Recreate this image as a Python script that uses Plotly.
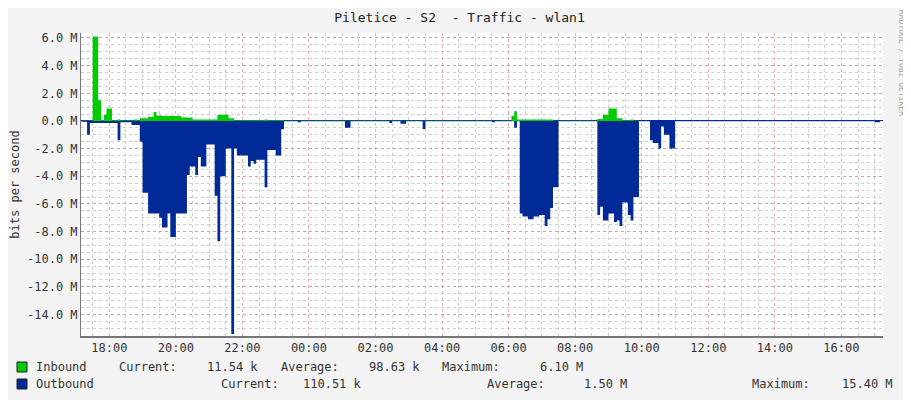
import plotly.graph_objects as go

DAY0 = "2024-01-01 "
DAY1 = "2024-01-02 "

# Outbound (negative, Mbit/s) step start times and values
out_times = ["17:10","17:20","17:25","18:15","18:20","18:40","18:55","19:00","19:10","19:30","19:35","19:45","19:50","20:00",
             "20:20","20:25","20:35","20:40","20:45","20:55","21:10","21:15","21:20","21:30","21:40","21:45","21:50",
             "22:10","22:15","22:20","22:25","22:40","22:45","23:00","23:10","23:15","23:40","23:45",
             "+01:05","+01:15","+02:25","+02:30","+02:45","+02:55","+03:25","+03:30","+05:30","+05:35",
             "+06:10","+06:15","+06:20","+06:25","+06:35","+06:45","+06:55","+07:05","+07:10","+07:15","+07:20","+07:30",
             "+08:40","+08:45","+08:50","+09:00","+09:10","+09:15","+09:20","+09:25","+09:35","+09:40","+09:45","+09:55",
             "+10:15","+10:20","+10:30","+10:35","+10:40","+10:50","+11:00","+17:00","+17:10"]
out_vals = [-0.05,-1.0,-0.15,-1.4,-0.1,-0.3,-1.5,-5.2,-6.7,-7.0,-7.7,-6.7,-8.4,-6.7,
            -3.9,-3.3,-3.9,-2.6,-3.3,-1.7,-5.4,-8.7,-4.0,-2.0,-15.4,-2.0,-2.5,
            -3.3,-2.9,-3.1,-2.8,-4.8,-2.1,-2.5,-0.6,-0.02,-0.1,-0.02,
            -0.5,-0.02,-0.15,-0.02,-0.2,-0.02,-0.6,-0.02,-0.1,-0.02,
            -0.5,-0.02,-6.7,-6.9,-7.1,-6.9,-6.8,-7.6,-7.1,-6.3,-4.8,-0.02,
            -6.8,-6.2,-7.2,-6.7,-7.3,-7.2,-7.6,-5.9,-6.8,-7.2,-5.5,-0.02,
            -1.4,-1.6,-2.0,-0.4,-1.0,-2.0,-0.02,-0.1,-0.1]

# Inbound (positive, Mbit/s)
in_times = ["17:10","17:30","17:40","17:45","17:50","17:55","18:05","18:15","18:20","18:45","18:50","18:55","19:10","19:20",
            "19:25","19:35","20:10","20:30","21:15","21:35","21:45","22:40","22:45","23:15",
            "+06:05","+06:10","+06:15","+07:20","+08:40","+08:50","+09:00","+09:15","+09:25","+09:40","+09:45","+09:55","+17:10"]
in_vals = [0.02,6.1,1.5,0.05,0.45,0.9,0.05,0.1,0.03,0.1,0.03,0.2,0.3,0.65,
           0.4,0.35,0.25,0.1,0.45,0.2,0.05,0.1,0.05,0.01,
           0.35,0.7,0.1,0.02,0.15,0.45,0.9,0.2,0.05,0.1,0.02,0.0,0.01]

y_tickvals = [6, 4, 2, 0, -2, -4, -6, -8, -10, -12, -14]
y_ticktext = ["6.0 M","4.0 M","2.0 M","0.0 M","-2.0 M","-4.0 M","-6.0 M","-8.0 M","-10.0 M","-12.0 M","-14.0 M"]

# legend pieces: (text, x pixel, anchor)
legend_in = [("Inbound", 34, "left"), ("Current:", 117, "left"), ("11.54 k", 260, "right"),
             ("Average:", 279, "left"), ("98.63 k", 422, "right"), ("Maximum:", 440, "left"), ("6.10 M", 585, "right")]
legend_out = [("Outbound", 34, "left"), ("Current:", 219, "left"), ("110.51 k", 364, "right"),
              ("Average:", 485, "left"), ("1.50 M", 629, "right"), ("Maximum:", 750, "left"), ("15.40 M", 895, "right")]

def ts(t):
    return (DAY1 + t[1:]) if t.startswith("+") else (DAY0 + t)

FONT = "DejaVu Sans Mono"
OFF = 8  # page body margin
W, H = 911 - OFF, 400 - OFF
X0, X1, Y0, Y1 = 81, 883, 33, 336  # plot box in page pixels
L, R, T, B = X0 - OFF, 911 - X1, Y0 - OFF, 400 - Y1
PW, PH = X1 - X0, Y1 - Y0

def px(x):
    return (x - X0) / PW

def py(y):
    return (Y1 - y) / PH

fig = go.Figure()
fig.add_trace(go.Scatter(x=[ts(t) for t in in_times], y=in_vals, mode="lines", line_shape="hv",
                         line=dict(width=0, color="#00cc00"), fill="tozeroy", fillcolor="#00cc00", showlegend=False))
fig.add_trace(go.Scatter(x=[ts(t) for t in out_times], y=out_vals, mode="lines", line_shape="hv",
                         line=dict(width=0, color="#002a97"), fill="tozeroy", fillcolor="#002a97", showlegend=False))

fig.update_layout(
    width=W, height=H, paper_bgcolor="#f3f3f3", plot_bgcolor="white",
    margin=dict(l=L, r=R, t=T, b=B, autoexpand=False),
    font=dict(family=FONT, size=12, color="#333"),
    title=dict(text="Piletice - S2  - Traffic - wlan1", x=0.5, xanchor="center", y=1 - 5 / H, yanchor="top",
               font=dict(family=FONT, size=13, color="#222")),
    xaxis=dict(type="date", range=["2024-01-01 17:09", "2024-01-02 17:15"], automargin=False,
               dtick=7200000, tick0="2024-01-01 18:00", tickformat="%H:%M",
               showgrid=True, gridcolor="rgba(230,120,120,0.6)", griddash="dot", gridwidth=1,
               minor=dict(dtick=1800000, showgrid=True, gridcolor="#d0d0d0", griddash="dot"),
               showline=True, linecolor="#777", linewidth=2, ticks="", zeroline=False,
               tickfont=dict(family=FONT, size=12, color="#333")),
    yaxis=dict(range=[-15.55, 6.36], tickvals=y_tickvals, ticktext=y_ticktext, automargin=False,
               showgrid=True, gridcolor="rgba(230,120,120,0.6)", griddash="dot",
               minor=dict(dtick=0.5, showgrid=True, gridcolor="#d0d0d0", griddash="dot"),
               showline=True, linecolor="#777", linewidth=1, ticks="", zeroline=True,
               zerolinecolor="#002a97", zerolinewidth=1,
               title=dict(text="bits per second", font=dict(family=FONT, size=12, color="#333"), standoff=6),
               tickfont=dict(family=FONT, size=12, color="#333")),
)

fig.add_annotation(text="RRDTOOL / TOBI OETIKER", xref="paper", yref="paper", x=px(902), y=py(8),
                   xanchor="center", yanchor="top", textangle=90, showarrow=False,
                   font=dict(family=FONT, size=8, color="#aaa"))

for color, pieces, ypx in [("#00cc00", legend_in, 367), ("#002a97", legend_out, 384)]:
    fig.add_shape(type="rect", xref="paper", yref="paper",
                  x0=px(17), x1=px(27), y0=py(ypx + 5), y1=py(ypx - 5),
                  fillcolor=color, line=dict(color="#222", width=1))
    for text, xp, anchor in pieces:
        fig.add_annotation(text=text, xref="paper", yref="paper", x=px(xp), y=py(ypx),
                           xanchor=anchor, yanchor="middle", showarrow=False,
                           font=dict(family=FONT, size=12, color="#333"))

fig.write_html("out.html")
